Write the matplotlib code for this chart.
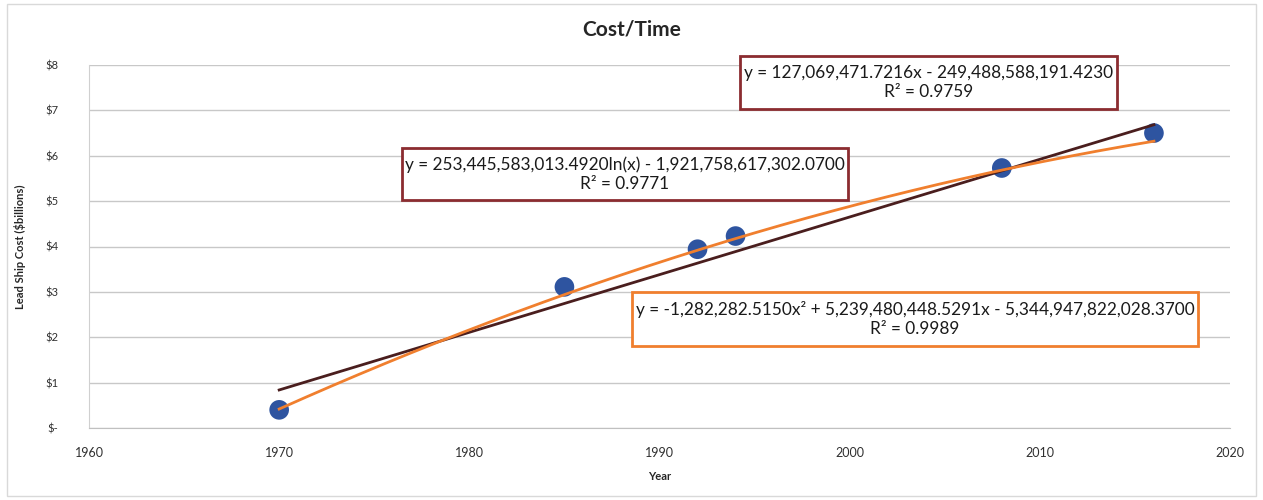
import numpy as np
import matplotlib
matplotlib.use("Agg")
import matplotlib.pyplot as plt
from matplotlib.patches import Rectangle

years = [1970, 1985, 1992, 1994, 2008, 2016]
cost_billions = [0.40, 3.11, 3.94, 4.23, 5.73, 6.50]

lin_coef = [127069471.7216, -249488588191.4230]
poly_coef = [-1282282.5150, 5239480448.5291, -5344947822028.3700]

lin_label = "y = 127,069,471.7216x - 249,488,588,191.4230\nR² = 0.9759"
ln_label = "y = 253,445,583,013.4920ln(x) - 1,921,758,617,302.0700\nR² = 0.9771"
poly_label = "y = -1,282,282.5150x² + 5,239,480,448.5291x - 5,344,947,822,028.3700\nR² = 0.9989"

yticks = [0, 1, 2, 3, 4, 5, 6, 7, 8]
ytick_labels = ["$-", "$1", "$2", "$3", "$4", "$5", "$6", "$7", "$8"]
xticks = [1960, 1970, 1980, 1990, 2000, 2010, 2020]

plt.rcParams['font.family'] = ['Lato', 'DejaVu Sans']

W, H = 1263, 500
fig = plt.figure(figsize=(W / 100, H / 100), dpi=100)
ax = fig.add_axes([89 / W, 1 - 428 / H, (1230 - 89) / W, (428 - 65) / H])

xs = np.linspace(min(years), max(years), 200)
lin_y = np.polyval(lin_coef, xs) / 1e9
poly_y = np.polyval(poly_coef, xs) / 1e9

ax.scatter(years, cost_billions, s=200, color="#2E54A0", zorder=3, edgecolors="none")
ax.plot(xs, lin_y, color="#4A1E1E", lw=2, zorder=4)
ax.plot(xs, poly_y, color="#F07F2E", lw=2, zorder=5)

ax.set_xlim(1960, 2020)
ax.set_ylim(0, 8)
ax.set_yticks(yticks)
ax.set_yticklabels(ytick_labels, fontsize=8, color="#303030")
ax.set_xticks(xticks)
ax.set_xticklabels([str(x) for x in xticks], fontsize=9, color="#303030")
ax.tick_params(length=0, pad=14, axis='x')
ax.tick_params(length=0, pad=22, axis='y')
ax.grid(axis='y', color="#C8C8C8", lw=1)
ax.set_axisbelow(True)
for s in ['top', 'right']:
    ax.spines[s].set_visible(False)
ax.spines['left'].set_color("#D0D0D0")
ax.spines['bottom'].set_color("#C0C0C0")
ax.set_xlabel("Year", fontsize=8, fontweight='bold', labelpad=8, color="#262626")
ax.set_ylabel("Lead Ship Cost ($billions)", fontsize=8, fontweight='bold', labelpad=14, color="#262626")

fig.text(632 / W, 1 - 30 / H, "Cost/Time", fontsize=15, fontweight='bold', ha='center', va='center', color="#262626")

def box(x0, y0, x1, y1, text, ec):
    fig.add_artist(Rectangle((x0 / W, 1 - y1 / H), (x1 - x0) / W, (y1 - y0) / H,
                             transform=fig.transFigure, facecolor="white", edgecolor=ec, lw=2, zorder=10))
    fig.text((x0 + x1) / 2 / W, 1 - (y0 + y1) / 2 / H, text, ha='center', va='center',
             fontsize=12.4, color="#1A1A1A", zorder=11, linespacing=1.2)

box(740, 56, 1117, 109, lin_label, "#8B2C30")
box(402, 148, 848, 200, ln_label, "#8B2C30")
box(632, 292, 1198, 346, poly_label, "#F07F2E")

fig.add_artist(Rectangle((7 / W, 4 / H), (W - 14) / W, (H - 8) / H, transform=fig.transFigure,
                         facecolor="none", edgecolor="#D9D9D9", lw=1))

fig.savefig("out.png", dpi=100)
